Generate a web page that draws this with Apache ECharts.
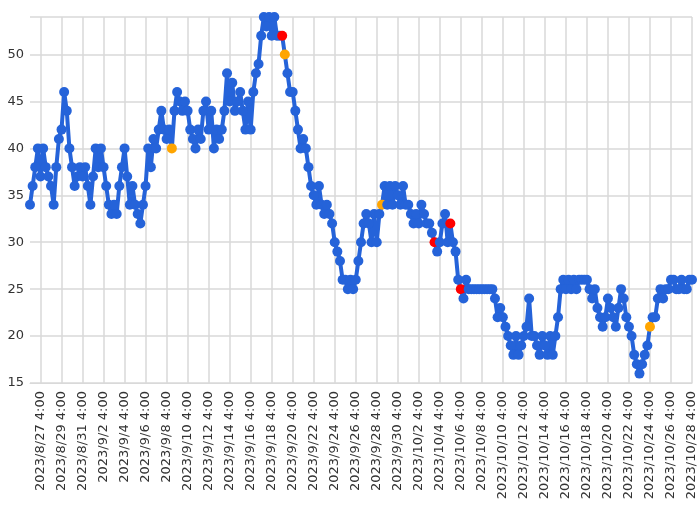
<!DOCTYPE html>
<html>
<head>
<meta charset="utf-8">
<script src="https://cdn.jsdelivr.net/npm/echarts@6/dist/echarts.min.js"></script>
<style>html,body{margin:0;padding:0;background:#fff}#chart{width:700px;height:506px}</style>
</head>
<body>
<div id="chart"></div>
<script>
// 6-hourly readings, one row per day starting 2023/8/26 4:00
var values = [
  34,36,38,40, 37,40,38,37, 36,34,38,41, 42,46,44,40, 38,36,37,38,
  37,38,36,34, 37,40,38,40, 38,36,34,33, 34,33,36,38, 40,37,34,36,
  34,33,32,34, 36,40,38,41, 40,42,44,42, 41,42,40,44, 46,45,44,45,
  44,42,41,40, 42,41,44,45, 42,44,40,42, 41,42,44,48, 45,47,44,45,
  46,44,42,45, 42,46,48,49, 52,54,53,54, 52,54,52,52, 52,50,48,46,
  46,44,42,40, 41,40,38,36, 35,34,36,34, 33,34,33,32, 30,29,28,26,
  26,25,26,25, 26,28,30,32, 33,32,30,33, 30,33,34,36, 34,36,34,36,
  35,34,36,34, 34,33,32,33, 32,34,33,32, 32,31,30,29, 30,32,33,30,
  32,30,29,26, 25,24,26,25, 25,25,25,25, 25,25,25,25, 25,24,22,23,
  22,21,20,19, 18,20,18,19, 20,21,24,20, 20,19,18,20, 19,18,20,18,
  20,22,25,26, 25,26,25,26, 25,26,26,26, 26,25,24,25, 23,22,21,22,
  24,23,22,21, 23,25,24,22, 21,20,18,17, 16,17,18,19, 21,22,22,24,
  25,24,25,25, 26,26,25,25, 26,25,25,26, 26
];
var orangeIdx = [54, 97, 134, 236];
var redIdx = [96, 154, 160, 164];
var startDate = new Date(2023, 7, 26, 4, 0);
var hoursStep = 6;

var categories = values.map(function (v, i) {
  var d = new Date(startDate.getTime() + i * hoursStep * 3600000);
  return d.getFullYear() + '/' + (d.getMonth() + 1) + '/' + d.getDate() + ' ' + d.getHours() + ':00';
});

var seriesData = values.map(function (v, i) {
  if (redIdx.indexOf(i) >= 0) return {value: v, itemStyle: {color: '#ff0000'}};
  if (orangeIdx.indexOf(i) >= 0) return {value: v, itemStyle: {color: '#ffa500'}};
  return v;
});

var labelEvery = function (idx) { return (idx - 4) % 8 === 0; };

var chart = echarts.init(document.getElementById('chart'));
chart.setOption({
  animation: false,
  grid: {left: 30, right: 8, top: 17, bottom: 123},
  xAxis: {
    type: 'category',
    data: categories,
    boundaryGap: false,
    axisLine: {lineStyle: {color: '#d9d9d9'}},
    axisTick: {show: false},
    axisLabel: {
      interval: labelEvery,
      rotate: 90,
      color: '#333',
      fontSize: 13,
      fontFamily: 'DejaVu Sans'
    },
    splitLine: {show: true, interval: labelEvery, lineStyle: {color: '#d9d9d9', width: 1.5}}
  },
  yAxis: {
    type: 'value',
    min: 15,
    max: 54,
    interval: 5,
    axisLine: {show: false},
    axisTick: {show: false},
    axisLabel: {color: '#333', fontSize: 13, fontFamily: 'DejaVu Sans', showMaxLabel: false, margin: 6},
    splitLine: {lineStyle: {color: '#d9d9d9', width: 1.5}}
  },
  series: [{
    type: 'line',
    data: seriesData,
    symbol: 'circle',
    symbolSize: 10,
    showAllSymbol: true,
    lineStyle: {color: '#2563d9', width: 4},
    itemStyle: {color: '#2563d9'}
  }]
});
</script>
</body>
</html>
